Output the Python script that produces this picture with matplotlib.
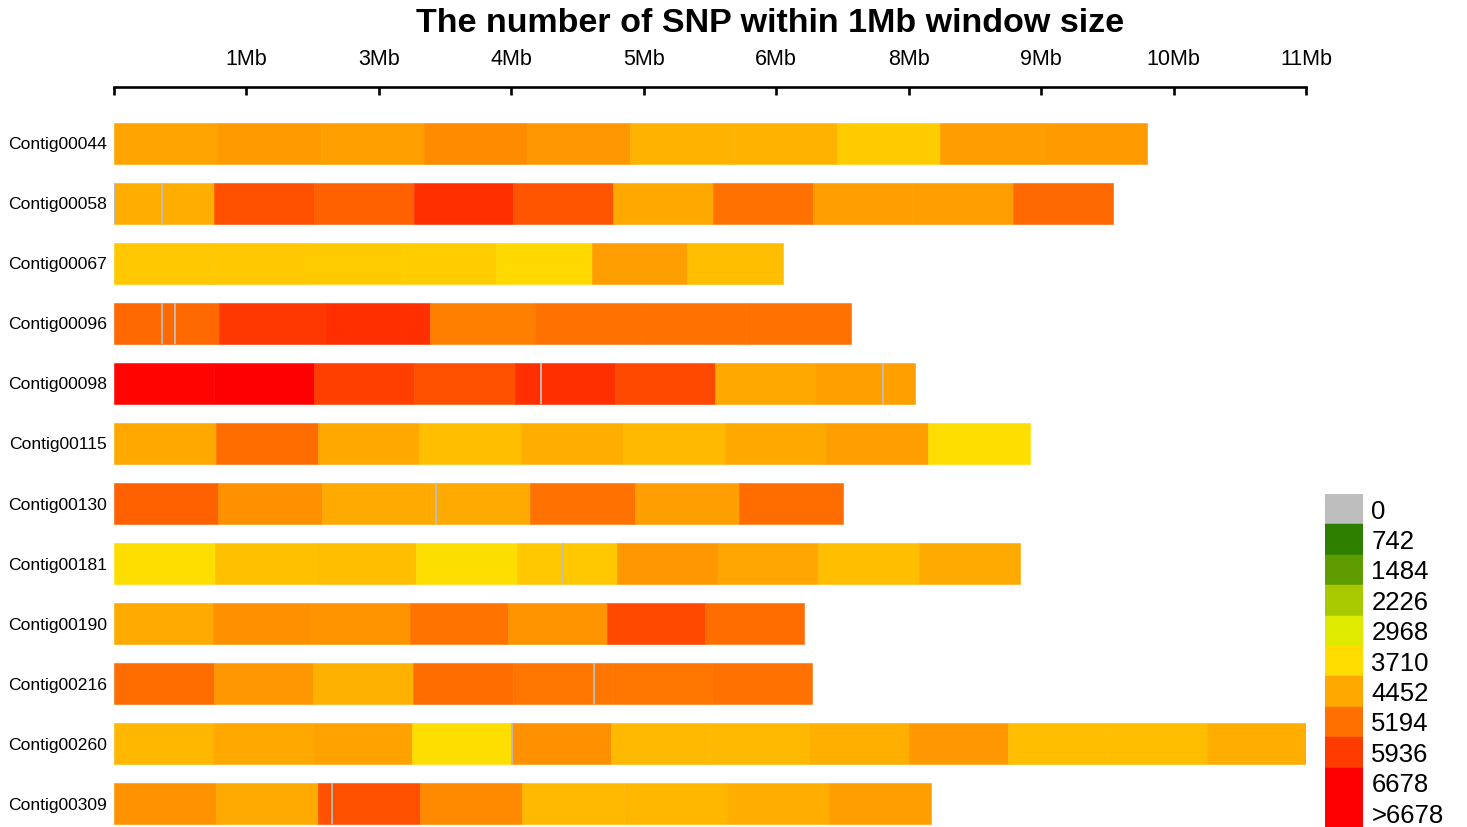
import matplotlib
matplotlib.use("Agg")
import matplotlib.pyplot as plt
from matplotlib.colors import LinearSegmentedColormap, Normalize
import numpy as np

plt.rcParams['font.family'] = ['Liberation Sans', 'DejaVu Sans']

# ---------------- data ----------------
title = "The number of SNP within 1Mb window size"

contigs = ["Contig00044", "Contig00058", "Contig00067", "Contig00096",
           "Contig00098", "Contig00115", "Contig00130", "Contig00181",
           "Contig00190", "Contig00216", "Contig00260", "Contig00309"]

contig_length_mb = [9.99, 9.66, 6.47, 7.13, 7.75, 8.86, 7.05, 8.76, 6.67, 6.75, 11.53, 7.90]

# SNP counts per window (left to right)
snp_00044 = [4490, 4640, 4560, 4820, 4660, 4280, 4290, 3950, 4610, 4640]
snp_00058 = [4380, 5650, 5420, 6080, 5580, 4450, 5190, 4580, 4580, 5280]
snp_00067 = [4000, 4000, 3980, 3920, 3780, 4580, 4140]
snp_00096 = [5280, 5990, 6080, 4980, 5190, 5190, 5170]
snp_00098 = [6600, 6720, 5880, 5650, 6080, 5740, 4450, 4560]
snp_00115 = [4450, 5220, 4450, 4140, 4370, 4200, 4450, 4580, 3660]
snp_00130 = [5420, 4770, 4420, 4420, 5190, 4580, 5220]
snp_00181 = [3700, 4120, 4140, 3640, 4000, 4660, 4480, 4140, 4420]
snp_00190 = [4420, 4770, 4720, 5140, 4720, 5740, 5220]
snp_00216 = [5220, 4660, 4310, 5220, 5090, 5110, 5190]
snp_00260 = [4230, 4450, 4530, 3660, 4770, 4200, 4200, 4340, 4660, 4140, 4140, 4370]
snp_00309 = [4740, 4420, 5650, 4850, 4200, 4230, 4370, 4580]

window_snps = [snp_00044, snp_00058, snp_00067, snp_00096, snp_00098, snp_00115,
               snp_00130, snp_00181, snp_00190, snp_00216, snp_00260, snp_00309]

# positions (Mb) of SNP-free gaps shown as thin grey marks
gap_00058 = [0.0, 0.46]
gap_00096 = [0.46, 0.59]
gap_00098 = [4.13, 7.44]
gap_00130 = [3.11]
gap_00181 = [4.34]
gap_00216 = [4.64]
gap_00260 = [3.85]
gap_00309 = [2.11]
gaps_mb = [[], gap_00058, [], gap_00096, gap_00098, [], gap_00130, gap_00181,
           [], gap_00216, gap_00260, gap_00309]

tick_labels = ["", "1Mb", "3Mb", "4Mb", "5Mb", "6Mb", "8Mb", "9Mb", "10Mb", "11Mb"]

legend_labels = ["0", "742", "1484", "2226", "2968", "3710", "4452", "5194", "5936", "6678", ">6678"]
legend_values = [0, 742, 1484, 2226, 2968, 3710, 4452, 5194, 5936, 6678]
legend_colors = ["#BEBEBE", "#2E7F00", "#5F9C00", "#A8C800", "#DEEB00", "#FFDD00",
                 "#FFA800", "#FF7000", "#FF3C00", "#FF0000", "#FF0000"]

# ---------------- colour mapping ----------------
vmax = legend_values[-1]
cmap = LinearSegmentedColormap.from_list(
    "snp", list(zip(np.array(legend_values) / vmax, legend_colors[:len(legend_values)])))
cmap.set_over(legend_colors[-1])
norm = Normalize(0, vmax)

W, H = 1467, 827
fig = plt.figure(figsize=(W / 100, H / 100), dpi=100)
ax = fig.add_axes([114 / W, 0, 1192 / W, 1 - 87 / H])

bar_h = 0.68
for i, (L, vals, gaps) in enumerate(zip(contig_length_mb, window_snps, gaps_mb)):
    k = len(vals)
    w = L / k
    lefts = np.arange(k) * w
    cols = cmap(norm(np.array(vals, dtype=float)))
    ax.barh([i] * k, [w] * k, left=lefts, height=bar_h, color=cols,
            edgecolor=cols, linewidth=0.4)
    for g in gaps:
        ax.plot([g, g], [i - bar_h / 2, i + bar_h / 2], color="#BEBEBE",
                lw=1.3, solid_capstyle="butt", zorder=3)

xmax = max(contig_length_mb)
ax.set_xlim(0, xmax)
ax.set_ylim(11.39, -0.94)

for s in ["left", "right", "bottom"]:
    ax.spines[s].set_visible(False)
ax.spines["top"].set_linewidth(1.9)

ax.xaxis.tick_top()
ax.set_xticks(np.linspace(0, xmax, len(tick_labels)))
ax.set_xticklabels(tick_labels)
ax.tick_params(axis="x", direction="in", length=6, width=1.9, pad=12, labelsize=15.5)

ax.set_yticks(range(len(contigs)))
ax.set_yticklabels(contigs)
ax.tick_params(axis="y", length=0, pad=5, labelsize=12.6)

fig.text(770 / W, 1 - 24 / H, title, ha="center", va="center",
         fontsize=24.5, fontweight="bold")

# ---------------- legend ----------------
nleg = len(legend_labels)
box_h = 30.4
axl = fig.add_axes([1325 / W, (H - 494 - nleg * box_h) / H, 38 / W, nleg * box_h / H])
axl.barh(range(nleg), [1] * nleg, height=1.0, left=0, color=legend_colors,
         edgecolor=legend_colors, linewidth=0.3)
axl.set_xlim(0, 1)
axl.set_ylim(nleg - 0.5, -0.5)
axl.axis("off")
for i, lab in enumerate(legend_labels):
    axl.text(1.22, i + 0.08, lab, ha="left", va="center", fontsize=18.5, clip_on=False)

fig.savefig("out.png", dpi=100)
